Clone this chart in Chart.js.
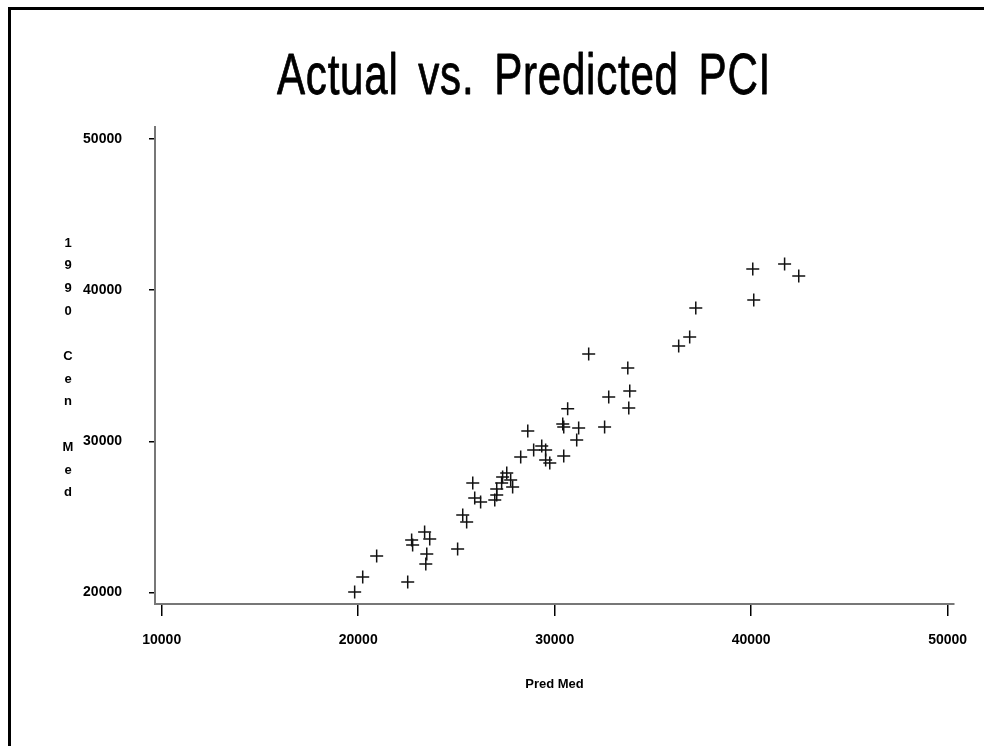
<!DOCTYPE html>
<html><head><meta charset="utf-8">
<script src="https://cdn.jsdelivr.net/npm/chart.js@4/dist/chart.umd.min.js"></script>
<style>html,body{margin:0;padding:0;background:#fff;overflow:hidden}#wrap{width:984px;height:746px;position:relative}</style>
</head><body><div id="wrap"><canvas id="c" width="984" height="746"></canvas></div>
<script>
const titleText = 'Actual vs. Predicted PCI';
const xAxisTitle = 'Pred Med';
const yAxisTitleLines = ['1','9','9','0','','C','e','n','','M','e','d'];
const xTickValues = [10000, 20000, 30000, 40000, 50000];
const yTickValues = [20000, 30000, 40000, 50000];
const predMed = [19820,20230,20940,22520,22720,22770,23380,23640,23490,23440,
                 25060,25320,25520,25830,25930,26230,26950,27050,27050,27300,
                 27350,27560,27760,27860,28270,28630,28930,29340,29540,29540,
                 29750,30410,30460,30460,30660,31120,31220,31730,32540,32750,
                 33770,33820,33720,36310,36870,37180,40130,40080,41700,42420];
const cenMed =  [20030,21030,22410,20700,23470,23140,24000,23540,22550,21890,
                 22880,25130,24660,27240,26250,25990,26120,26450,26850,27240,
                 27640,27910,27440,26980,28960,30680,29430,29690,29430,28770,
                 28570,31150,30950,29030,32150,30090,30880,35780,30950,32930,
                 32210,33330,34850,36310,36900,38820,39350,41400,41730,40940];

const FONT = '"Liberation Sans", Arial, sans-serif';
const points = predMed.map((x, i) => ({x: x, y: cenMed[i]}));

const decorPlugin = {
  id: 'decor',
  beforeDraw(chart) {
    const ctx = chart.ctx;
    ctx.save();
    ctx.fillStyle = '#fff';
    ctx.fillRect(0, 0, chart.width, chart.height);
    ctx.fillStyle = '#000';
    ctx.fillRect(8, 7, 3, 746);
    ctx.fillRect(8, 7, 976, 3);
    ctx.restore();
  },
  afterDraw(chart) {
    const ctx = chart.ctx;
    ctx.save();
    ctx.font = '57px ' + FONT;
    try { ctx.letterSpacing = '1px'; ctx.wordSpacing = '10px'; } catch (e) {}
    ctx.fillStyle = '#000';
    ctx.strokeStyle = '#000';
    ctx.lineWidth = 0.8;
    ctx.lineJoin = 'round';
    ctx.textBaseline = 'alphabetic';
    ctx.textAlign = 'center';
    const w = ctx.measureText(titleText).width;
    const sx = 494 / w;
    ctx.translate(524, 94);
    ctx.scale(sx, 1);
    ctx.fillText(titleText, 0, 0);
    ctx.strokeText(titleText, 0, 0);
    ctx.restore();
    ctx.save();
    ctx.font = 'bold 13px ' + FONT;
    ctx.fillStyle = '#000';
    ctx.textAlign = 'center';
    ctx.textBaseline = 'middle';
    yAxisTitleLines.forEach((t, i) => {
      if (t) ctx.fillText(t, 68, 243 + i * 22.7);
    });
    ctx.restore();
  }
};

new Chart(document.getElementById('c'), {
  type: 'scatter',
  data: {
    datasets: [{
      data: points,
      pointStyle: 'cross',
      pointRadius: 6.5,
      pointHoverRadius: 6.5,
      borderColor: '#111',
      backgroundColor: '#111',
      borderWidth: 1.5
    }]
  },
  options: {
    responsive: false,
    animation: false,
    devicePixelRatio: 1,
    layout: {padding: {top: 127, right: 30, bottom: 0, left: 0}},
    plugins: {legend: {display: false}, tooltip: {enabled: false}, title: {display: false}},
    scales: {
      x: {
        type: 'linear',
        position: 'bottom',
        min: 9659,
        max: 50321,
        afterBuildTicks: s => { s.ticks = xTickValues.map(v => ({value: v})); },
        afterFit: s => { s.height = 142; },
        grid: {drawOnChartArea: false, drawTicks: true, tickLength: 12, color: '#000', lineWidth: 1.5},
        border: {display: true, color: '#777', width: 2},
        ticks: {callback: v => String(v), font: {family: FONT, size: 14, weight: 'bold'}, color: '#000', padding: 16, maxRotation: 0, autoSkip: false},
        title: {display: true, text: xAxisTitle, font: {family: FONT, size: 13, weight: 'bold'}, color: '#000', padding: {top: 0, bottom: 54}}
      },
      y: {
        type: 'linear',
        position: 'left',
        min: 19239,
        max: 50794,
        afterBuildTicks: s => { s.ticks = yTickValues.map(v => ({value: v})); },
        afterFit: s => { s.width = 155; },
        grid: {drawOnChartArea: false, drawTicks: true, tickLength: 6, color: '#000', lineWidth: 1.5},
        border: {display: true, color: '#777', width: 2},
        ticks: {callback: v => String(v), font: {family: FONT, size: 14, weight: 'bold'}, color: '#000', padding: 27, autoSkip: false},
        title: {display: false}
      }
    }
  },
  plugins: [decorPlugin]
});
</script>
</body></html>
